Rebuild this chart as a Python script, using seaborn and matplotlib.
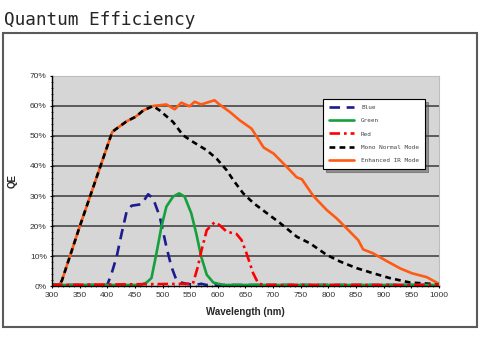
import numpy as np
import pandas as pd
import matplotlib
matplotlib.use("Agg")
import matplotlib.pyplot as plt
from matplotlib.patches import Rectangle
from matplotlib.ticker import MultipleLocator, FuncFormatter
import seaborn as sns

# ===================== Data =====================
wl_enh = [300, 310, 315, 318, 350, 409, 417, 435, 450, 456, 465, 483, 507, 522, 534,
          549, 558, 570, 594, 603, 622, 640, 661, 683, 701, 722, 743, 752, 773,
          797, 815, 833, 854, 863, 881, 905, 930, 951, 978, 1000]
qe_enh = [0.5, 0.5, 1.0, 2.0, 19.8, 51.3, 52.4, 54.8, 56.2, 57.0, 58.4, 59.9, 60.4, 58.8, 61.0,
          59.8, 61.3, 60.4, 61.8, 60.4, 57.9, 55.1, 52.4, 46.1, 44.1, 40.2, 36.2, 35.6, 30.0,
          25.4, 22.6, 19.3, 15.4, 12.3, 11.0, 8.5, 6.0, 4.4, 3.1, 0.9]

wl_mono = [300, 310, 315, 318, 350, 409, 417, 435, 450, 456, 465, 483, 495, 519, 537, 555,
           580, 598, 616, 628, 646, 665, 689, 713, 743, 767, 797, 821, 851, 881, 911,
           948, 984, 1000]
qe_mono = [0.5, 0.5, 1.0, 2.0, 19.8, 51.3, 52.4, 54.8, 56.2, 57.0, 58.4, 59.9, 58.4, 54.6, 50.2, 48.0,
           45.2, 42.4, 38.6, 35.3, 30.9, 27.6, 24.3, 21.0, 16.5, 14.3, 10.5, 8.3, 6.1, 4.4, 2.8,
           1.3, 0.9, 0.5]

wl_blue = [300, 400, 408, 417, 426, 435, 444, 462, 474, 483, 495, 507, 516, 525, 534,
           543, 560, 570, 580, 1000]
qe_blue = [0.5, 0.5, 4.4, 9.9, 17.6, 24.8, 26.8, 27.3, 30.6, 29.2, 23.2, 13.2, 6.6, 2.2, 1.3,
           0.9, 0.5, 0.9, 0.5, 0.5]

wl_green = [300, 460, 471, 480, 489, 498, 507, 519, 530, 540, 552, 561, 570, 580, 592, 610, 1000]
qe_green = [0.5, 0.5, 1.3, 2.8, 11.0, 19.8, 26.5, 29.8, 30.9, 29.8, 24.3, 17.6, 9.9, 3.9, 1.3, 0.5, 0.5]

wl_red = [300, 555, 564, 570, 580, 594, 603, 616, 634, 643, 652, 664, 673, 683, 1000]
qe_red = [0.5, 0.9, 6.6, 11.6, 18.7, 21.3, 20.4, 18.2, 17.4, 15.4, 11.0, 4.4, 1.1, 0.5, 0.5]

labels = ["Blue", "Green", "Red", "Mono Normal Mode", "Enhanced IR Mode"]

# ===================== Style =====================
sns.set_style("ticks")
plt.rcParams.update({
    'font.family': ['Liberation Sans', 'DejaVu Sans'],
    'font.size': 6,
})

fig = plt.figure(figsize=(4.8, 3.51), dpi=100)
fig.patch.set_facecolor('white')

# outer frame
fig.add_artist(Rectangle((0.00625, 0.0684), 0.9875, 0.8376, transform=fig.transFigure,
                         fill=False, edgecolor='#5a5a5a', linewidth=1.5))
fig.text(0.008, 0.9288, "Quantum Efficiency", family='DejaVu Sans Mono',
         fontsize=12.8, va='baseline', ha='left')

ax = fig.add_axes([0.1083, 0.1838, 0.806, 0.601])
ax.set_facecolor('#d6d6d6')

# horizontal grid
for g in range(10, 70, 10):
    ax.axhline(g, color='#3a3a3a', linewidth=1.1, zorder=1)

series = [
    ("Enhanced IR Mode", wl_enh, qe_enh, dict(color='#ff5a14', linestyle='-')),
    ("Mono Normal Mode", wl_mono, qe_mono, dict(color='black', dashes=(2.2, 1.6))),
    ("Blue", wl_blue, qe_blue, dict(color='#1c1c8f', dashes=(4, 2.5))),
    ("Green", wl_green, qe_green, dict(color='#14a03c', linestyle='-')),
    ("Red", wl_red, qe_red, dict(color='#ff0000', dashes=(4, 1.5, 1, 1.5))),
]
handles = {}
for name, wl, qe, kw in series:
    sns.lineplot(x=wl, y=qe, ax=ax, linewidth=1.9, sort=False, zorder=3, **kw)
    handles[name] = ax.lines[-1]

ax.set_xlim(300, 1000)
ax.set_ylim(0, 70)
ax.xaxis.set_major_locator(MultipleLocator(50))
ax.xaxis.set_minor_locator(MultipleLocator(10))
ax.yaxis.set_major_locator(MultipleLocator(10))
ax.yaxis.set_minor_locator(MultipleLocator(2))
ax.yaxis.set_major_formatter(FuncFormatter(lambda v, p: f"{v:.0f}%"))

ax.tick_params(axis='both', which='major', direction='inout', length=3.5, width=0.8,
               labelsize=6, pad=2, colors='black')
ax.tick_params(axis='both', which='minor', direction='inout', length=2, width=0.6)
for lab in ax.get_xticklabels() + ax.get_yticklabels():
    lab.set_color('#333333')

for s in ['left', 'bottom']:
    ax.spines[s].set_color('black')
    ax.spines[s].set_linewidth(1.0)
    ax.spines[s].set_zorder(4)
for s in ['top', 'right']:
    ax.spines[s].set_visible(True)
    ax.spines[s].set_color('#bdbdbd')
    ax.spines[s].set_linewidth(0.8)

ax.set_xlabel("Wavelength (nm)", fontsize=7, fontweight='bold', labelpad=6)
ax.set_ylabel("QE", fontsize=7, fontweight='bold', labelpad=9)

leg = ax.legend([handles[l] for l in labels], labels, loc='upper left',
                bbox_to_anchor=(0.70, 0.889), prop={'family': 'DejaVu Sans Mono', 'size': 4.3},
                frameon=True, fancybox=False, shadow=True, handlelength=4.2,
                labelspacing=1.35, borderpad=1.0, handletextpad=1.2, borderaxespad=0)
leg.get_frame().set_edgecolor('black')
leg.get_frame().set_linewidth(0.8)
leg.get_frame().set_facecolor('white')
leg.get_frame().set_alpha(1)
for t in leg.get_texts():
    t.set_color('#444444')

fig.savefig("out.png", dpi=100, facecolor='white')
